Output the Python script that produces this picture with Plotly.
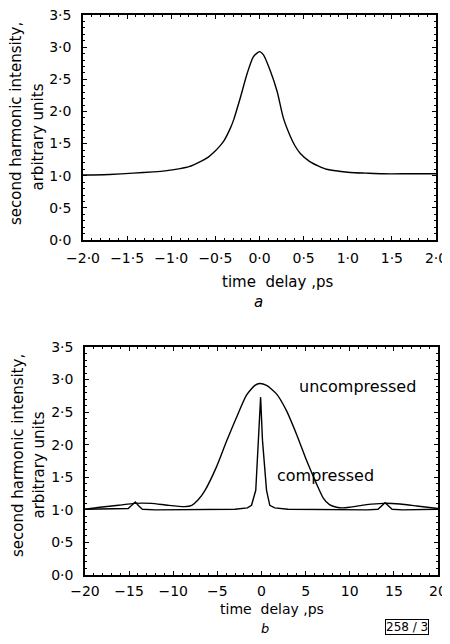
import plotly.graph_objects as go

# ---- panel a data ----
xa = [-2.0, -1.7, -1.43, -1.2, -1.05, -0.9, -0.8, -0.67, -0.58, -0.52, -0.45, -0.4, -0.33,
      -0.29, -0.22, -0.14, -0.07, 0.0, 0.045, 0.12, 0.2, 0.27, 0.35, 0.4, 0.46, 0.57, 0.67,
      0.76, 0.9, 1.03, 1.2, 1.4, 1.7, 2.0]
ya = [1.01, 1.02, 1.04, 1.06, 1.08, 1.11, 1.14, 1.22, 1.29, 1.36, 1.46, 1.55, 1.74,
      1.88, 2.20, 2.59, 2.85, 2.93, 2.88, 2.64, 2.31, 1.90, 1.61, 1.47, 1.35, 1.22, 1.15,
      1.10, 1.07, 1.05, 1.04, 1.03, 1.03, 1.03]

# ---- panel b data ----
xb_unc = [-20, -18.3, -16.2, -14.4, -12.5, -10.6, -8.7, -7.9, -7.2, -6.4, -5.1, -4.0, -2.8,
          -1.7, -0.75, -0.2, 0.57, 1.7, 2.8, 4.0, 5.1, 6.2, 7.0, 7.7, 8.5, 9.2, 10.0, 11.9,
          13.8, 15.7, 17.6, 20]
yb_unc = [1.01, 1.04, 1.07, 1.10, 1.10, 1.07, 1.05, 1.07, 1.15, 1.30, 1.66, 2.04, 2.43,
          2.76, 2.91, 2.94, 2.91, 2.78, 2.53, 2.15, 1.76, 1.41, 1.18, 1.08, 1.04, 1.03, 1.04, 1.08,
          1.10, 1.09, 1.06, 1.02]

xb_cmp = [-20, -16, -15.1, -14.7, -14.3, -13.9, -13.5, -12, -6, -3, -1.6, -1.13, -0.65,
          -0.38, -0.1, 0.11, 0.57, 0.94, 1.5, 3, 8, 12, 13.2, 13.6, 14.0, 14.4, 14.8, 16, 20]
yb_cmp = [1.01, 1.01, 1.02, 1.07, 1.12, 1.06, 1.01, 1.0, 1.0, 1.01, 1.03, 1.07, 1.30,
          2.07, 2.73, 2.07, 1.30, 1.07, 1.03, 1.01, 1.0, 1.0, 1.01, 1.06, 1.11, 1.06, 1.01, 1.0, 1.01]

# ---- ticks ----
y_tickvals = [0, 0.5, 1.0, 1.5, 2.0, 2.5, 3.0, 3.5]
y_ticktext = ["0·0", "0·5", "1·0", "1·5", "2·0", "2·5", "3·0", "3·5"]
xa_tickvals = [-2.0, -1.5, -1.0, -0.5, 0.0, 0.5, 1.0, 1.5, 2.0]
xa_ticktext = ["−2·0", "−1·5", "−1·0", "−0·5", "0·0", "0·5", "1·0", "1·5", "2·0"]
xb_tickvals = [-20, -15, -10, -5, 0, 5, 10, 15, 20]
xb_ticktext = ["−20", "−15", "−10", "−5", "0", "5", "10", "15", "20"]

FONT = "DejaVu Sans"
# page body has an 8 px default margin; size the figure so the page does not scroll
OFF = 8
W, H = 450 - OFF, 644 - 2 * OFF

def PX(x):
    return (x - OFF) / W

def PY(y):
    return 1 - (y - OFF) / H

line_style = dict(color="black", width=1.4)

fig = go.Figure()
fig.add_trace(go.Scatter(x=xa, y=ya, mode="lines", line=dict(shape="spline", smoothing=0.6, **line_style),
                         xaxis="x", yaxis="y", showlegend=False))
fig.add_trace(go.Scatter(x=xb_unc, y=yb_unc, mode="lines", line=dict(shape="spline", smoothing=0.6, **line_style),
                         xaxis="x2", yaxis="y2", showlegend=False))
fig.add_trace(go.Scatter(x=xb_cmp, y=yb_cmp, mode="lines", line=dict(shape="linear", **line_style),
                         xaxis="x2", yaxis="y2", showlegend=False))

axis_common = dict(showgrid=False, zeroline=False, showline=True, linecolor="black", linewidth=1.5,
                   mirror="allticks", ticks="inside", ticklen=4, tickwidth=1.2, tickcolor="black",
                   tickfont=dict(family=FONT, size=14, color="black"), tickmode="array",
                   automargin=False, ticklabeloverflow="allow")
minor_common = dict(ticks="inside", ticklen=2, tickcolor="black", tickwidth=1)

fig.update_layout(
    template="none",
    width=W, height=H,
    margin=dict(l=0, r=0, t=0, b=0, autoexpand=False),
    paper_bgcolor="white", plot_bgcolor="white",
    font=dict(family=FONT, size=14, color="black"),
    xaxis=dict(domain=[PX(83), PX(436)], range=[-2, 2], anchor="y",
               tickvals=xa_tickvals, ticktext=xa_ticktext, ticklabelstandoff=4,
               minor=dict(dtick=0.1, **minor_common), **axis_common),
    yaxis=dict(domain=[PY(240), PY(15)], range=[0, 3.5], anchor="x",
               tickvals=y_tickvals, ticktext=y_ticktext, ticklabelstandoff=7,
               minor=dict(dtick=0.1, **minor_common), **axis_common),
    xaxis2=dict(domain=[PX(85), PX(438)], range=[-20, 20], anchor="y2",
                tickvals=xb_tickvals, ticktext=xb_ticktext, ticklabelstandoff=2,
                minor=dict(dtick=1, **minor_common), **axis_common),
    yaxis2=dict(domain=[PY(575), PY(347)], range=[0, 3.5], anchor="x2",
                tickvals=y_tickvals, ticktext=y_ticktext, ticklabelstandoff=7,
                minor=dict(dtick=0.1, **minor_common), **axis_common),
)

def ann(text, x, y, xref="paper", yref="paper", angle=0, size=15, xanchor="center", italic=False, **kw):
    if italic:
        text = "<i>" + text + "</i>"
    fig.add_annotation(text=text, x=x, y=y, xref=xref, yref=yref, textangle=angle, showarrow=False,
                       xanchor=xanchor, yanchor="middle", font=dict(family=FONT, size=size, color="black"), **kw)

# y-axis titles (two lines each)
ann("second harmonic intensity,", PX(16), PY(124), angle=-90)
ann("arbitrary units", PX(37.5), PY(137), angle=-90)
ann("second harmonic intensity,", PX(18), PY(456), angle=-90)
ann("arbitrary units", PX(38.5), PY(465), angle=-90)

# x-axis titles
ann("time\u00a0\u00a0delay ,ps", PX(277), PY(282))
ann("a", PX(258), PY(302), italic=True)
ann("time\u00a0\u00a0delay ,ps", PX(272), PY(608.5), size=14)
ann("b", PX(265), PY(628.5), size=13, italic=True)

# curve labels
ann("uncompressed", 4.0, 2.89, xref="x2", yref="y2", xanchor="left", size=16)
ann("compressed", 1.5, 1.52, xref="x2", yref="y2", xanchor="left", size=16)

# figure id box
fig.add_annotation(text="258 / 3", x=PX(407), y=PY(627), xref="paper", yref="paper", showarrow=False,
                   font=dict(family=FONT, size=12, color="black"), bordercolor="black", borderwidth=1,
                   borderpad=0, xanchor="center", yanchor="middle")

fig.write_html("out.html")
